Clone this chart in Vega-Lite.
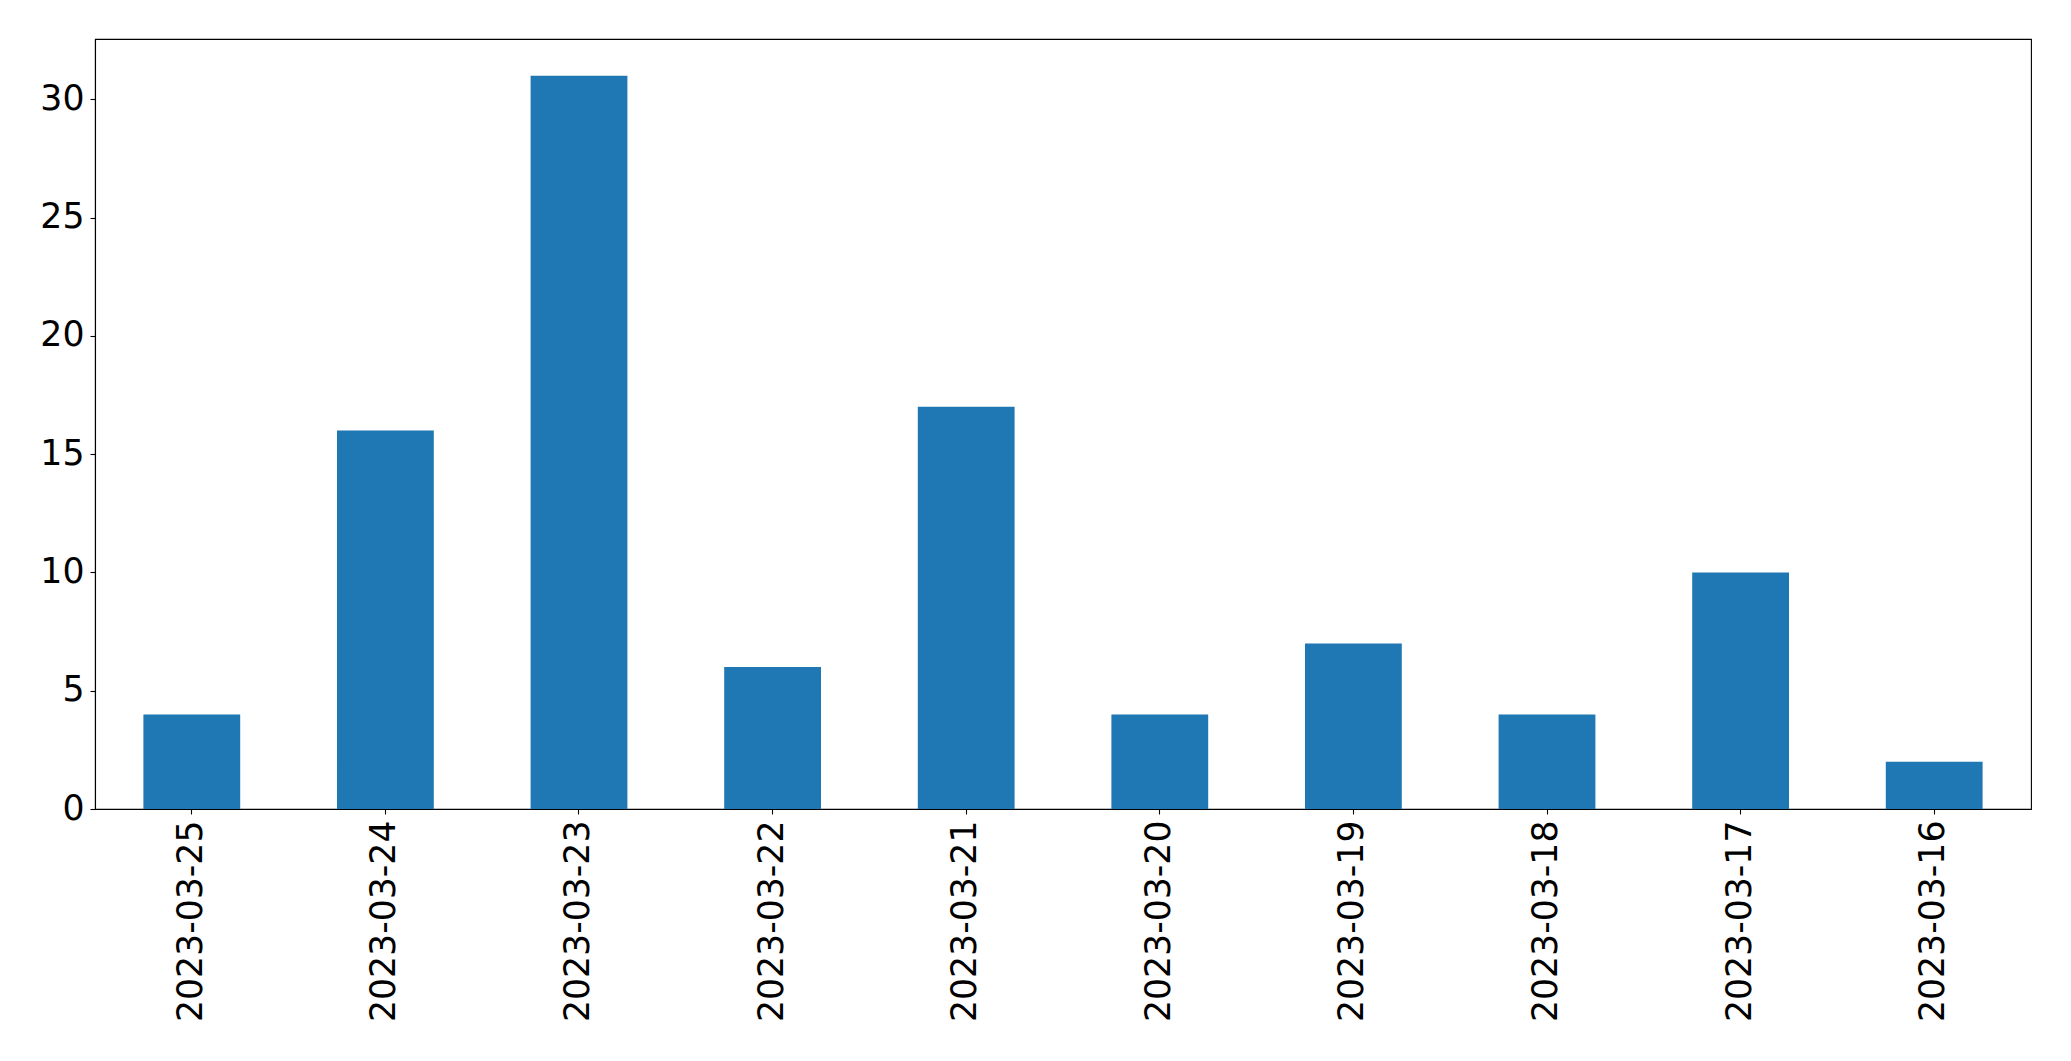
{
  "$schema": "https://vega.github.io/schema/vega-lite/v6.json",
  "autosize": {"type": "none"},
  "padding": {"left": 95, "top": 39, "right": 40, "bottom": 252},
  "width": 1936,
  "height": 770,
  "background": "white",
  "data": {"values": [
    {"date": "2023-03-25", "count": 4},
    {"date": "2023-03-24", "count": 16},
    {"date": "2023-03-23", "count": 31},
    {"date": "2023-03-22", "count": 6},
    {"date": "2023-03-21", "count": 17},
    {"date": "2023-03-20", "count": 4},
    {"date": "2023-03-19", "count": 7},
    {"date": "2023-03-18", "count": 4},
    {"date": "2023-03-17", "count": 10},
    {"date": "2023-03-16", "count": 2}
  ]},
  "mark": {"type": "bar", "color": "#1f77b4"},
  "encoding": {
    "x": {
      "field": "date", "type": "nominal", "sort": null,
      "scale": {"paddingInner": 0.5, "paddingOuter": 0.25},
      "axis": {"title": null, "labelAngle": -90, "labelPadding": 6, "tickSize": 5, "labelLimit": 0}
    },
    "y": {
      "field": "count", "type": "quantitative",
      "scale": {"domain": [0, 32.55], "nice": false, "zero": true},
      "axis": {"title": null, "values": [0, 5, 10, 15, 20, 25, 30], "grid": false, "tickSize": 5, "labelPadding": 6}
    }
  },
  "config": {
    "view": {"stroke": "black", "strokeWidth": 1.1},
    "axis": {
      "domainColor": "black", "domainWidth": 1.1,
      "tickColor": "black", "tickWidth": 1.1,
      "labelColor": "black", "labelFont": "DejaVu Sans", "labelFontSize": 34.7,
      "labelFlush": false, "labelOverlap": false
    }
  }
}
